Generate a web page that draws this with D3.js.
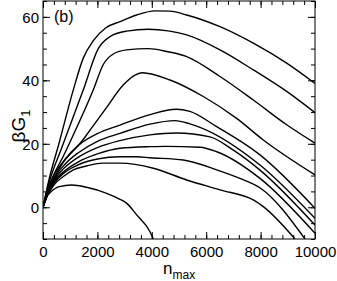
<!DOCTYPE html>
<html><head><meta charset="utf-8">
<script src="https://cdn.jsdelivr.net/npm/d3@7"></script>
<style>body{margin:0;background:#fff}svg{display:block}text{font-family:"Liberation Sans",Arial,sans-serif;fill:#000}</style>
</head><body>
<script>
const xTickValues = [0, 2000, 4000, 6000, 8000, 10000];
const yTickValues = [0, 20, 40, 60];
const panelLabel = "(b)";
// each series: [n_max, βG1] pairs
const curve1 = [[0,0],[200,8],[600,20.5],[1114,37],[1480,47],[1850,52.5],[2300,56.5],[2831,58.5],[3444,60.6],[4118,61.9],[4669,61.8],[5283,60.6],[6507,56.9],[7732,51.7],[8959,45.4],[10000,39]];
const curve2 = [[0,0],[200,7],[700,19],[1482,37],[2033,50],[2463,53.8],[3077,55.5],[3873,56.1],[4600,55.6],[5283,54.3],[6507,49.6],[7732,43.3],[8959,36.5],[10000,29.8]];
const curve3 = [[0,0],[200,6],[800,17],[1850,37],[2217,45],[2585,48.3],[3077,49.6],[3873,50],[4600,49],[5283,47.5],[6507,41.2],[7732,33.8],[8959,26],[10000,20.2]];
const curve4 = [[0,0],[380,8.6],[1500,21.6],[2300,31],[2950,38.5],[3400,41.7],[3650,42.4],[4669,40.1],[5893,34.9],[7120,28],[8100,21.2],[10000,10.2]];
const curve5 = [[0,0],[150,5],[400,10],[800,15],[1300,19.5],[2000,23.2],[2831,25.9],[3934,29.2],[4900,30.9],[5400,30.2],[6386,25.4],[7978,16.5],[10000,-0.3]];
const curve6 = [[0,0],[150,4.5],[400,9],[800,13.5],[1300,17.2],[2000,20.8],[2831,23.3],[3934,26.2],[4850,27.3],[5400,26.3],[5772,25.2],[7978,13.3],[10000,-3.5]];
const curve7 = [[0,0],[150,4],[400,8.5],[800,12.5],[1300,15.8],[2000,18.8],[2831,21],[3934,22.8],[4900,23.4],[6140,22.2],[7000,18],[7978,11.7],[10000,-5.6]];
const curve8 = [[0,0],[150,4],[400,8],[800,11.5],[1300,14.3],[2000,16.8],[2831,18.6],[3934,19.1],[4500,19.2],[5772,18.9],[6386,17.5],[7978,9.1],[10000,-8.2]];
const curve9 = [[0,0],[150,3.5],[400,7.5],[800,11],[1300,13.4],[2000,15.2],[2831,15.9],[3445,15.9],[3934,15.6],[5158,14.9],[6386,11.8],[7238,9.1],[8000,6],[9632,-10]];
const curve10 = [[0,0],[150,3.5],[400,7],[800,10],[1114,11.8],[1600,13],[2200,13.9],[2831,13.9],[4056,12.3],[5283,8.6],[6507,5.5],[7732,2.3],[8100,0.2],[9265,-10]];
const curve11 = [[0,0],[100,3],[250,4.5],[600,6.5],[1055,7.0],[1600,6.3],[2342,4.4],[2831,2.5],[3070,1.3],[3445,-2.4],[3934,-7.7],[4055,-10]];
const series = [curve1, curve2, curve3, curve4, curve5, curve6, curve7, curve8, curve9, curve10, curve11];

const W = 337, H = 281;
const x = d3.scaleLinear().domain([0, 10000]).range([43, 315]);
const y = d3.scaleLinear().domain([-10, 65]).range([239, 1]);

const svg = d3.select("body").append("svg").attr("width", W).attr("height", H);
svg.append("defs").append("clipPath").attr("id", "clip")
  .append("rect").attr("x", 43).attr("y", 1).attr("width", 272).attr("height", 238);

const line = d3.line().x(d => x(d[0])).y(d => y(d[1])).curve(d3.curveMonotoneX);
svg.append("g").attr("clip-path", "url(#clip)")
  .selectAll("path").data(series).join("path")
  .attr("d", line).attr("fill", "none").attr("stroke", "#000").attr("stroke-width", 1.4);

const xMinor = d3.range(0, 10001, 400);
const yMinor = d3.range(-10, 65.1, 5);
function addAxis(makeAxis, scale, transform, major, minor) {
  const g = svg.append("g").attr("transform", transform);
  g.call(makeAxis(scale).tickValues(minor).tickSize(-4).tickFormat(""));
  g.select(".domain").remove();
  const g2 = svg.append("g").attr("transform", transform);
  g2.call(makeAxis(scale).tickValues(major).tickSize(-7).tickFormat(d3.format("d")));
  g2.select(".domain").remove();
  return g2;
}
const bx = addAxis(d3.axisBottom, x, "translate(0,239)", xTickValues, xMinor);
bx.selectAll("text").attr("y", 18).attr("dy", 0).style("font-size", "15px");
const tx = addAxis(d3.axisTop, x, "translate(0,1)", xTickValues, xMinor);
tx.selectAll("text").remove();
const ly = addAxis(d3.axisLeft, y, "translate(43,0)", yTickValues, yMinor);
ly.selectAll("text").attr("x", -4).attr("dy", "0.36em").style("font-size", "15px");
const ry = addAxis(d3.axisRight, y, "translate(315,0)", yTickValues, yMinor);
ry.selectAll("text").remove();
svg.selectAll(".tick line").attr("stroke", "#000");
svg.selectAll("g text").attr("font-family", null).attr("fill", "#000");

svg.append("rect").attr("x", 43).attr("y", 1).attr("width", 272).attr("height", 238)
  .attr("fill", "none").attr("stroke", "#000").attr("stroke-width", 1);

svg.append("text").attr("x", 54).attr("y", 22).style("font-size", "16px").text(panelLabel);

const xl = svg.append("text").attr("x", 163).attr("y", 274).style("font-size", "17px");
xl.append("tspan").text("n");
xl.append("tspan").attr("dy", 5).style("font-size", "12px").text("max");

const yl = svg.append("text").attr("transform", "translate(25,126) rotate(-90)")
  .attr("text-anchor", "middle").style("font-size", "19px");
yl.append("tspan").text("βG");
yl.append("tspan").attr("dy", 5).style("font-size", "13px").text("1");
</script>
</body></html>
